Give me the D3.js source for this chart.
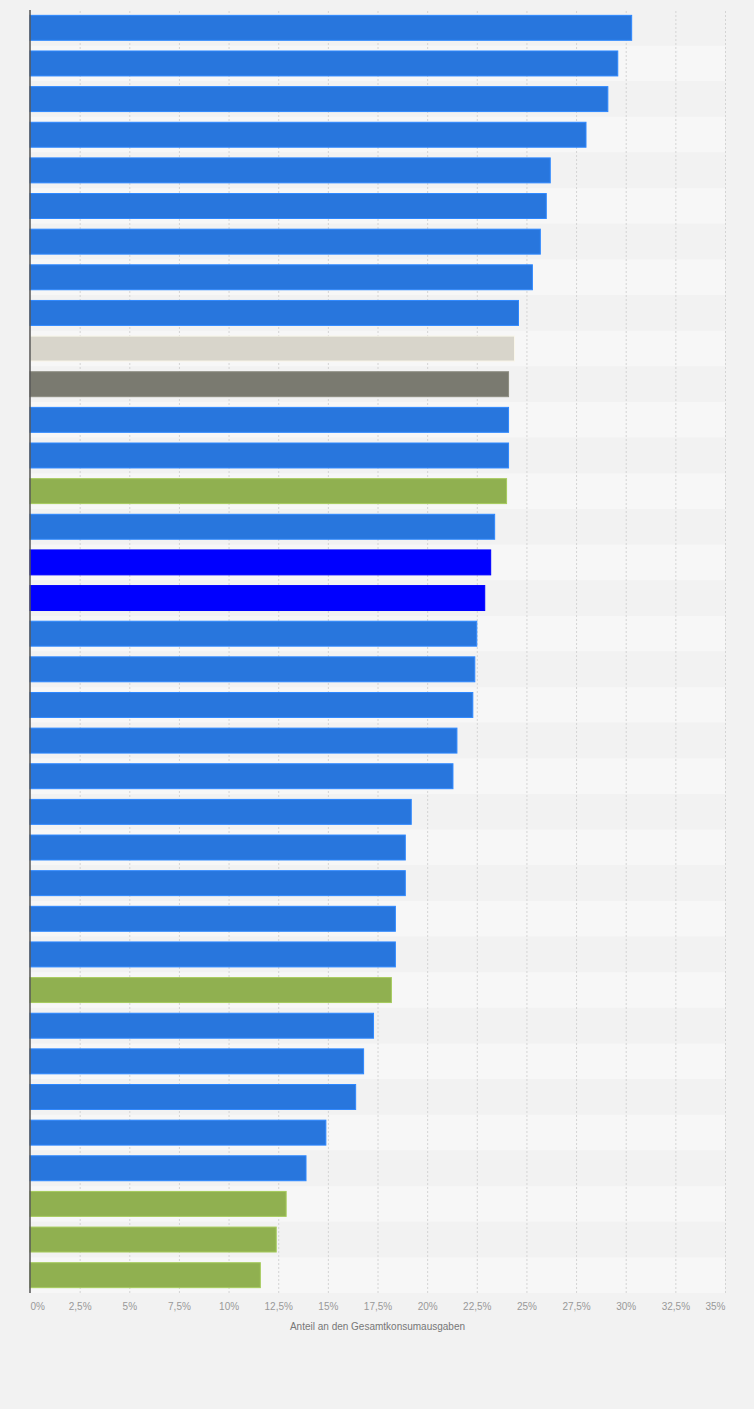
<!DOCTYPE html>
<html>
<head>
<meta charset="utf-8">
<script src="https://cdn.jsdelivr.net/npm/d3@7"></script>
<style>
  html, body { margin: 0; padding: 0; background: #f2f2f2; }
  svg { display: block; font-family: "Liberation Sans", Arial, sans-serif; }
</style>
</head>
<body>
<svg id="chart"></svg>
<script>
const width = 754;
const height = 1409;
const margin = { top: 10, right: 29, bottom: 116, left: 30 };

// one row per bar, top to bottom (no category labels are shown in the chart)
const rows = d3.range(1, 37).map(i => 'Zeile ' + i);
const values = [30.3, 29.6, 29.1, 28.0, 26.2, 26.0, 25.7, 25.3, 24.6, 24.4,
                24.1, 24.1, 24.1, 24.0, 23.4, 23.2, 22.9, 22.5, 22.4, 22.3,
                21.5, 21.3, 19.2, 18.9, 18.9, 18.4, 18.4, 18.2, 17.3, 16.8,
                16.4, 14.9, 13.9, 12.9, 12.4, 11.6];
const groups = ['a', 'a', 'a', 'a', 'a', 'a', 'a', 'a', 'a', 'c',
                'd', 'a', 'a', 'b', 'a', 'e', 'e', 'a', 'a', 'a',
                'a', 'a', 'a', 'a', 'a', 'a', 'a', 'b', 'a', 'a',
                'a', 'a', 'a', 'b', 'b', 'b'];
const xTicks = [0, 2.5, 5, 7.5, 10, 12.5, 15, 17.5, 20, 22.5, 25, 27.5, 30, 32.5, 35];
const xTitle = 'Anteil an den Gesamtkonsumausgaben';

const data = rows.map((r, i) => ({ row: r, value: values[i], group: groups[i] }));

const colorScale = d3.scaleOrdinal()
    .domain(['a', 'b', 'c', 'd', 'e'])
    .range(['#2876dd', '#90b050', '#d8d5cb', '#7a7a70', '#0000ff']);

const xScale = d3.scaleLinear()
    .domain([0, 35])
    .range([margin.left, width - margin.right]);

const yScale = d3.scaleBand()
    .domain(rows)
    .range([margin.top, height - margin.bottom])
    .paddingInner(0.3)
    .paddingOuter(0.15);

const svg = d3.select('#chart')
    .attr('width', width)
    .attr('height', height);

// striped row backgrounds
const step = yScale.step();
svg.append('g')
    .selectAll('rect')
    .data(data)
    .enter()
    .append('rect')
        .attr('x', xScale(0))
        .attr('y', d => yScale(d.row) - step * 0.15)
        .attr('width', xScale(35) - xScale(0))
        .attr('height', step)
        .attr('fill', (d, i) => i % 2 ? '#f7f7f7' : '#f2f2f2');

// grid + tick labels
const xAxis = d3.axisBottom(xScale)
    .tickValues(xTicks)
    .tickSize(-(height - margin.bottom - margin.top))
    .tickSizeOuter(0)
    .tickPadding(10)
    .tickFormat(d => String(d).replace('.', ',') + '%');

const gx = svg.append('g')
    .attr('transform', `translate(0, ${height - margin.bottom})`)
    .call(xAxis);

gx.select('.domain').remove();
gx.selectAll('.tick line')
    .attr('stroke', '#d4d4d4')
    .attr('stroke-dasharray', '2,2')
    .filter(d => d === 0).remove();
gx.selectAll('.tick text')
    .attr('fill', '#999')
    .style('font-size', '10px')
    .attr('text-anchor', d => d === 0 ? 'start' : d === 35 ? 'end' : 'middle');

// bars
svg.append('g')
    .selectAll('rect')
    .data(data)
    .enter()
    .append('rect')
        .attr('x', xScale(0))
        .attr('y', d => yScale(d.row))
        .attr('width', d => xScale(d.value) - xScale(0))
        .attr('height', yScale.bandwidth())
        .attr('fill', d => colorScale(d.group))
        .attr('stroke', d => d3.color(colorScale(d.group)).brighter(0.4))
        .attr('stroke-width', 1);

// left axis line
svg.append('line')
    .attr('x1', xScale(0))
    .attr('x2', xScale(0))
    .attr('y1', margin.top)
    .attr('y2', height - margin.bottom)
    .attr('stroke', '#555')
    .attr('stroke-width', 1.5);

svg.append('text')
    .attr('x', (xScale(0) + xScale(35)) / 2)
    .attr('y', height - margin.bottom + 37)
    .style('text-anchor', 'middle')
    .style('font-size', '10px')
    .attr('fill', '#777')
    .text(xTitle);
</script>
</body>
</html>
